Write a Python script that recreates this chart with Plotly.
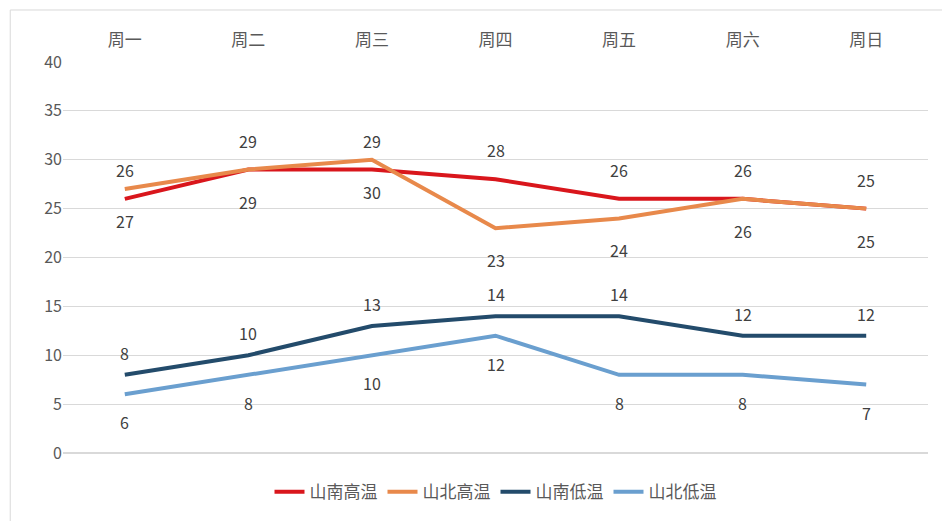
import plotly.graph_objects as go

days = ["周一","周二","周三","周四","周五","周六","周日"]
south_high = [26,29,29,28,26,26,25]
north_high = [27,29,30,23,24,26,25]
south_low = [8,10,13,14,14,12,12]
north_low = [6,8,10,12,8,8,7]

series = [
    ("山南高温", south_high, "#D9161C", 29),
    ("山北高温", north_high, "#E8894B", -32),
    ("山南低温", south_low, "#234B6B", 22),
    ("山北低温", north_low, "#6A9FCF", -28),
]
fig = go.Figure()
anns = []
for name, vals, col, shift in series:
    fig.add_trace(go.Scatter(x=days, y=vals, name=name, mode="lines",
        line=dict(color=col, width=4)))
    for d, v in zip(days, vals):
        anns.append(dict(x=d, y=v, text=str(v), showarrow=False, yshift=shift,
                         font=dict(size=16, color="#404040")))

fig.update_layout(
    width=950, height=521, paper_bgcolor="white", plot_bgcolor="white",
    margin=dict(l=55, r=30, t=54, b=76, autoexpand=False),
    font=dict(family="Noto Sans CJK SC", size=16, color="#595959"),
    xaxis=dict(side="top", showgrid=False, showline=False, ticks="",
               range=[-0.5, 6.5], tickfont=dict(size=17), ticklabelstandoff=12),
    yaxis=dict(range=[0, 40], dtick=5, gridcolor="#D9D9D9", gridwidth=1,
               zeroline=True, zerolinecolor="#D9D9D9", showline=False, tickfont=dict(size=16)),
    legend=dict(orientation="h", x=0.5, xanchor="center", y=-0.1, yanchor="middle",
                font=dict(size=17, color="#595959")),
    annotations=anns,
    shapes=[dict(type="rect", xref="paper", yref="paper", x0=-0.061, x1=1.029, y0=-0.18, y1=1.133,
                 line=dict(color="#D9D9D9", width=1))],
)
fig.write_html("out.html")
